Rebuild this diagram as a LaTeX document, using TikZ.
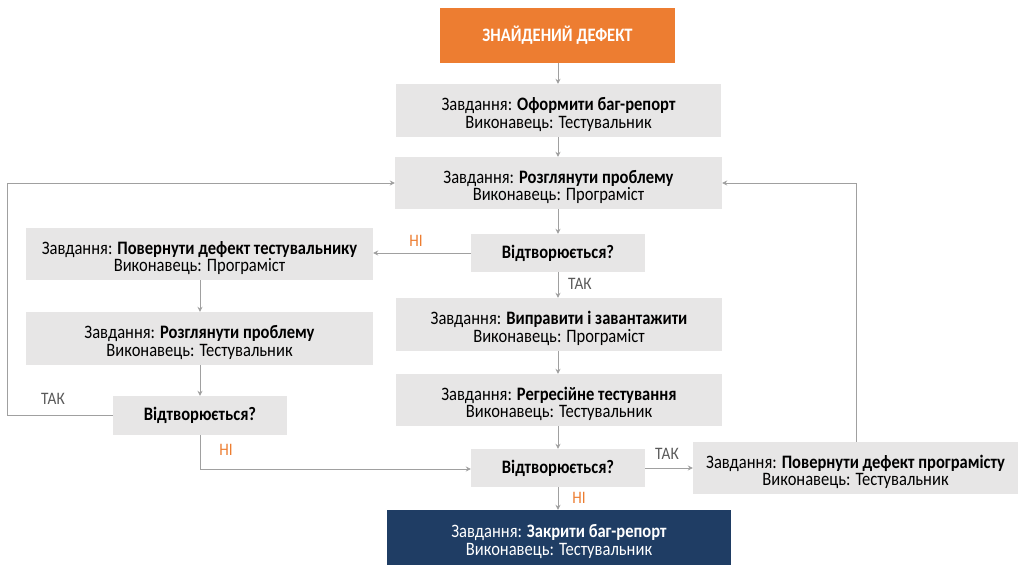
\documentclass[tikz,border=0pt]{standalone}
\usepackage{fontspec}
\setmainfont{Carlito}[FakeStretch=0.87]
\usetikzlibrary{arrows.meta}
\definecolor{orangeA}{HTML}{ED7D31}
\definecolor{boxgray}{HTML}{E7E6E6}
\definecolor{navy}{HTML}{1F3D64}
\definecolor{linegray}{HTML}{A0A0A0}
\definecolor{labgray}{HTML}{595959}
\newcommand{\topstrut}{\rule{0pt}{21pt}}
\tikzset{
  base/.style={rectangle, inner sep=0pt, align=center, font=\fontsize{19}{17.5}\selectfont, text=black},
  task/.style={base, fill=boxgray},
  decision/.style={base, fill=boxgray, font=\fontsize{19}{17.5}\selectfont\bfseries},
  startbox/.style={base, fill=orangeA, text=white, font=\fontsize{19}{17.5}\selectfont\bfseries},
  endbox/.style={base, fill=navy, text=white},
  conn/.style={draw=linegray, line width=1pt, -{Stealth[length=5pt,width=5pt]}},
  yeslab/.style={text=labgray, font=\fontsize{17.5}{16}\selectfont, inner sep=0pt},
  nolab/.style={text=orangeA, font=\fontsize{17.5}{16}\selectfont, inner sep=0pt},
}
\begin{document}
\begin{tikzpicture}[x=1pt,y=-1pt]
\useasboundingbox (0,0) rectangle (1024,572);
\fill[white] (0,0) rectangle (1024,572);
\node[startbox, minimum width=235pt, minimum height=55pt] (start) at (557.5,35.5) {ЗНАЙДЕНИЙ ДЕФЕКТ};
\node[task, minimum width=325pt, minimum height=53pt] (b1) at (558.5,110.5) {\topstrut Завдання: \textbf{Оформити баг-репорт}\\Виконавець: Тестувальник};
\node[task, minimum width=327pt, minimum height=52pt] (b2) at (558.5,183) {\topstrut Завдання: \textbf{Розглянути проблему}\\Виконавець: Програміст};
\node[decision, minimum width=174pt, minimum height=38pt] (d1) at (558,253) {Відтворюється?};
\node[task, minimum width=347pt, minimum height=52pt] (l1) at (199.5,254) {\topstrut Завдання: \textbf{Повернути дефект тестувальнику}\\Виконавець: Програміст};
\node[task, minimum width=347pt, minimum height=53pt] (l2) at (199.5,338.5) {\topstrut Завдання: \textbf{Розглянути проблему}\\Виконавець: Тестувальник};
\node[decision, minimum width=174pt, minimum height=39pt] (d2) at (200,415.5) {Відтворюється?};
\node[task, minimum width=326pt, minimum height=53pt] (b3) at (559,324.5) {\topstrut Завдання: \textbf{Виправити і завантажити}\\Виконавець: Програміст};
\node[task, minimum width=326pt, minimum height=52pt] (b4) at (559,400) {\topstrut Завдання: \textbf{Регресійне тестування}\\Виконавець: Тестувальник};
\node[decision, minimum width=174pt, minimum height=38pt] (d3) at (558,468) {Відтворюється?};
\node[task, minimum width=325pt, minimum height=52pt] (r1) at (855.5,468) {\topstrut Завдання: \textbf{Повернути дефект програмісту}\\Виконавець: Тестувальник};
\node[endbox, minimum width=344pt, minimum height=55pt] (end) at (559,537.5) {\topstrut Завдання: \textbf{Закрити баг-репорт}\\Виконавець: Тестувальник};

\coordinate (lc1) at (7,415.5);
\coordinate (lc2) at (7,183);
\coordinate (nc1) at (200,469);
\coordinate (rc1) at (856,183);

\draw[conn] (start.south -| 558,0) -- (b1.north -| 558,0);
\draw[conn] (b1.south -| 558,0) -- (b2.north -| 558,0);
\draw[conn] (b2.south -| 558,0) -- (d1.north);
\draw[conn] (d1.west) -- (d1.west -| l1.east);
\draw[conn] (d1.south) -- (b3.north -| d1.south);
\draw[conn] (l1.south -| 200,0) -- (l2.north -| 200,0);
\draw[conn] (l2.south -| 200,0) -- (d2.north);
\draw[conn] (d2.west) -- (lc1) -- (lc2) -- (b2.west);
\draw[conn] (d2.south) -- (nc1) -- (d3.west |- nc1);
\draw[conn] (b3.south -| 558,0) -- (b4.north -| 558,0);
\draw[conn] (b4.south -| 558,0) -- (d3.north);
\draw[conn] (d3.east) -- (r1.west);
\draw[conn] (r1.north -| rc1) -- (rc1) -- (b2.east);
\draw[conn] (d3.south) -- (end.north -| d3.south);

\node[nolab] (n1) at (416,241) {НІ};
\node[yeslab, anchor=west] (y1) at (568,284) {ТАК};
\node[yeslab] (y2) at (53,399) {ТАК};
\node[nolab] (n2) at (226,450) {НІ};
\node[yeslab] (y3) at (667,454) {ТАК};
\node[nolab] (n3) at (579,498) {НІ};
\end{tikzpicture}
\end{document}
